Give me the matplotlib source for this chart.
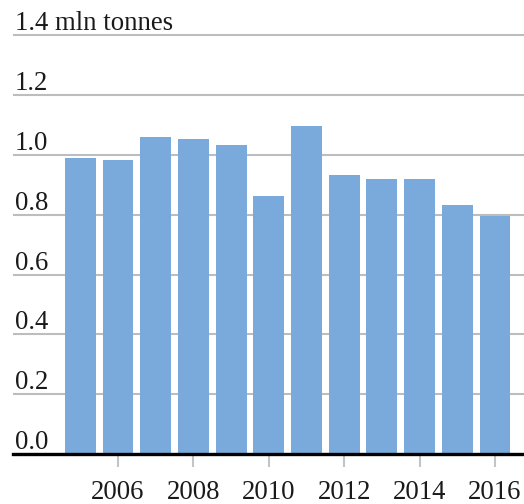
import matplotlib.pyplot as plt
from matplotlib import transforms

years = [2005, 2006, 2007, 2008, 2009, 2010, 2011, 2012, 2013, 2014, 2015, 2016]
values = [0.99, 0.983, 1.06, 1.055, 1.032, 0.863, 1.098, 0.933, 0.921, 0.921, 0.833, 0.797]
y_ticks = [0.0, 0.2, 0.4, 0.6, 0.8, 1.0, 1.2, 1.4]
y_labels = ['0.0', '0.2', '0.4', '0.6', '0.8', '1.0', '1.2', '1.4 mln tonnes']
x_ticks = [2006, 2008, 2010, 2012, 2014, 2016]

plt.rcParams['font.family'] = ['Liberation Serif', 'DejaVu Serif']

W, H = 524, 504
fig = plt.figure(figsize=(W / 100, H / 100), dpi=100)
ax = fig.add_axes([13 / W, 50 / H, 511 / W, 448.5 / H])

ax.bar(years, values, width=0.82, color='#79aadb', zorder=2)

ax.set_xlim(2003.215, 2016.77)
ax.set_ylim(0, 1.5)

ax.set_yticks(y_ticks)
ax.set_yticklabels([])
ax.tick_params(axis='y', length=0)
ax.yaxis.grid(True, color='#bdbdbd', linewidth=1.5)
ax.set_axisbelow(True)

trans = transforms.blended_transform_factory(ax.transAxes, ax.transData)
for v, lab in zip(y_ticks, y_labels):
    ax.annotate(lab, xy=(0, v), xycoords=trans, xytext=(2, 5),
                textcoords='offset pixels', ha='left', va='baseline',
                fontsize=19.3, color='#1a1a1a')

ax.set_xticks(x_ticks)
ax.set_xticklabels([str(y) for y in x_ticks], fontsize=19.3, color='#1a1a1a')
ax.tick_params(axis='x', length=9, width=1.5, color='#c4c4c4', pad=10)

for s in ['top', 'right', 'left']:
    ax.spines[s].set_visible(False)
ax.spines['bottom'].set_linewidth(2.4)
ax.spines['bottom'].set_color('black')
ax.spines['bottom'].set_zorder(3)

fig.savefig('out.png', dpi=100)
